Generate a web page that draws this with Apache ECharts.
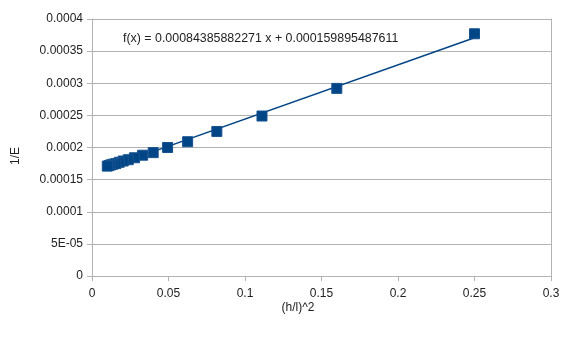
<!DOCTYPE html>
<html>
<head>
<meta charset="utf-8">
<script src="https://cdn.jsdelivr.net/npm/echarts@6/dist/echarts.min.js"></script>
<style>html,body{margin:0;padding:0;background:#fff}#c{width:581px;height:338px}</style>
</head>
<body>
<div id="c"></div>
<script>
// Data
const xValues = [0.25, 0.16, 0.1111, 0.0816, 0.0625, 0.0494, 0.04, 0.0331, 0.0278, 0.0237, 0.0204, 0.0178, 0.0156, 0.0138, 0.0123, 0.0111, 0.01];
const yValues = [0.000377, 0.000292, 0.000249, 0.000225, 0.000209, 0.000200, 0.000192, 0.000188, 0.000184, 0.000181, 0.000179, 0.000177, 0.000175, 0.000174, 0.000173, 0.000172, 0.000171];
const trendCoef = [0.00084385882271, 0.000159895487611]; // slope, intercept (as shown)
const equationLabel = 'f(x) = 0.00084385882271 x + 0.000159895487611';
const xTitle = '(h/l)^2';
const yTitle = '1/E';

const points = xValues.map((x, i) => [x, yValues[i]]);
const xMinData = Math.min(...xValues), xMaxData = Math.max(...xValues);
const trend = [xMinData, xMaxData].map(x => [x, trendCoef[0] * x + trendCoef[1]]);

const font = 'Liberation Sans, Arial, sans-serif';
const gridColor = '#b3b3b3';
const textColor = '#222';
const chart = echarts.init(document.getElementById('c'));
chart.setOption({
  animation: false,
  grid: { left: 92, right: 30, top: 19, bottom: 62, containLabel: false },
  xAxis: {
    type: 'value', min: 0, max: 0.3, interval: 0.05,
    axisLine: { show: true, onZero: false, lineStyle: { color: gridColor } },
    axisTick: { show: true, length: 5, lineStyle: { color: gridColor } },
    axisLabel: { color: textColor, fontFamily: font, fontSize: 12, margin: 12, showMaxLabel: true, showMinLabel: true },
    splitLine: { show: false }
  },
  yAxis: [{
    type: 'value', min: 0, max: 0.0004, interval: 0.00005,
    axisLine: { show: true, lineStyle: { color: gridColor } },
    axisTick: { show: true, length: 5, lineStyle: { color: gridColor } },
    axisLabel: {
      color: textColor, fontFamily: font, fontSize: 12, margin: 9,
      formatter: v => {
        if (v === 0) return '0';
        if (Math.abs(v - 0.00005) < 1e-12) return '5E-05';
        return String(parseFloat(v.toPrecision(6)));
      }
    },
    splitLine: { show: true, lineStyle: { color: gridColor } }
  }, {
    type: 'value', position: 'right', min: 0, max: 0.0004, interval: 0.00005,
    axisLine: { show: true, lineStyle: { color: gridColor } },
    axisTick: { show: false }, axisLabel: { show: false }, splitLine: { show: false }
  }],
  graphic: [
    { type: 'text', left: 123, top: 33, style: { text: equationLabel, fill: textColor, font: '12.4px ' + font } },
    { type: 'text', x: 298, y: 308, style: { text: xTitle, fill: textColor, font: '12px ' + font, align: 'center', verticalAlign: 'middle' } },
    { type: 'text', x: 16, y: 156, rotation: Math.PI / 2, style: { text: yTitle, fill: textColor, font: '12px ' + font, align: 'center', verticalAlign: 'middle' } }
  ],
  series: [
    {
      type: 'line', data: trend, showSymbol: false, symbol: 'none',
      lineStyle: { color: '#004586', width: 1.5 }, z: 2
    },
    {
      type: 'scatter', data: points, symbol: 'rect', symbolSize: 10,
      itemStyle: { color: '#004586', borderColor: '#16528f', borderWidth: 1, opacity: 1 }, z: 3
    }
  ]
});
</script>
</body>
</html>
